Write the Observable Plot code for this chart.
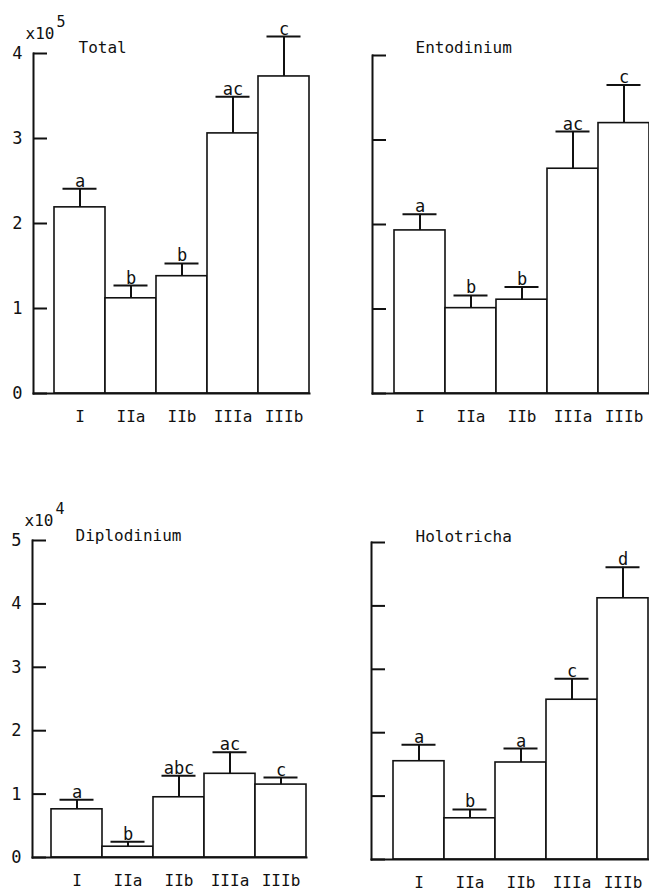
<!DOCTYPE html>
<html><head><meta charset="utf-8">
<script src="https://cdn.jsdelivr.net/npm/d3@7"></script>
<script src="https://cdn.jsdelivr.net/npm/@observablehq/plot@0.6"></script>
<style>
body{margin:0;background:#fff;}
#wrap{position:relative;width:649px;height:891px;overflow:hidden;}
.panel{position:absolute;}
</style></head><body><div id="wrap"></div>
<script>
// ---- data ----
const categories = ["I", "IIa", "IIb", "IIIa", "IIIb"];

const totalMean = [2.19, 1.12, 1.38, 3.06, 3.73];       // x10^5
const totalSE   = [0.22, 0.15, 0.15, 0.43, 0.47];
const totalLetters = ["a", "b", "b", "ac", "c"];

const entoMean = [1.93, 1.01, 1.11, 2.66, 3.20];        // x10^5
const entoSE   = [0.19, 0.15, 0.15, 0.44, 0.45];
const entoLetters = ["a", "b", "b", "ac", "c"];

const diploMean = [0.76, 0.17, 0.95, 1.32, 1.15];       // x10^4
const diploSE   = [0.15, 0.08, 0.34, 0.34, 0.11];
const diploLetters = ["a", "b", "abc", "ac", "c"];

const holoMean = [1.55, 0.65, 1.53, 2.52, 4.12];        // x10^4
const holoSE   = [0.26, 0.14, 0.22, 0.33, 0.49];
const holoLetters = ["a", "b", "a", "c", "d"];

const ticksTop = [0, 1, 2, 3, 4];
const ticksBottom = [0, 1, 2, 3, 4, 5];

const FONT = "DejaVu Sans Mono";

function panel(o) {
  const data = categories.map((c, i) => ({
    cat: c, mean: o.means[i], top: o.means[i] + o.se[i], letter: o.letters[i]
  }));
  const plotW = o.width - o.marginLeft - o.marginRight;
  const barW = (o.barsRight - o.barsLeft) / 5;
  const po = ((o.barsRight - o.axisX) / barW - 5) / 2;
  const marks = [
    Plot.barY(data, {x: "cat", y: "mean", fill: "white", stroke: "#111", strokeWidth: 1.6}),
    Plot.ruleX(data, {x: "cat", y1: "mean", y2: "top", stroke: "#111", strokeWidth: 2}),
    Plot.tickY(data, {x: "cat", y: "top", stroke: "#111", strokeWidth: 2, insetLeft: 8.5, insetRight: 8.5}),
    Plot.text(data, {x: "cat", y: "top", text: "letter", lineAnchor: "bottom", dy: -2, fontSize: 17, fill: "#111"}),
    Plot.tickY(o.ticks, {y: d => d, stroke: "#111", strokeWidth: 2, insetRight: plotW - 14}),
    Plot.frame({anchor: "left", stroke: "#111", strokeWidth: 2}),
    Plot.frame({anchor: "bottom", stroke: "#111", strokeWidth: 2}),
    Plot.axisX({tickSize: 0, tickPadding: 17, fontSize: 16, fill: "#111", label: null}),
    Plot.text([o.title], {frameAnchor: "top-left", textAnchor: "start", lineAnchor: "middle",
      dx: o.titleDx, dy: o.titleDy, fontSize: 16, fill: "#111"})
  ];
  if (o.labels) {
    marks.push(Plot.axisY(o.ticks, {tickSize: 0, tickPadding: 11, fontSize: 17, fill: "#111",
      tickFormat: d => String(d), label: null}));
    marks.push(Plot.text(["x10"], {frameAnchor: "top-left", textAnchor: "start", lineAnchor: "middle",
      dx: -8, dy: -20, fontSize: 16, fill: "#111"}));
    marks.push(Plot.text([o.exponent], {frameAnchor: "top-left", textAnchor: "start", lineAnchor: "middle",
      dx: 23, dy: -31, fontSize: 15, fill: "#111"}));
  }
  const chart = Plot.plot({
    width: o.width, height: o.height,
    marginLeft: o.marginLeft, marginRight: o.marginRight,
    marginTop: o.marginTop, marginBottom: o.marginBottom,
    style: {fontFamily: FONT, background: "transparent", overflow: "visible"},
    x: {type: "band", domain: categories, paddingInner: 0, paddingOuter: po, align: 1, axis: null},
    y: {domain: [0, o.yMax], axis: null},
    marks
  });
  chart.classList.add("panel");
  chart.style.left = o.left + "px";
  chart.style.top = o.top + "px";
  document.getElementById("wrap").appendChild(chart);
}

panel({left: 0, top: 0, width: 320, height: 430, axisX: 33, barsLeft: 54, barsRight: 309,
  marginLeft: 33, marginRight: 11, marginTop: 53, marginBottom: 37, yMax: 4, ticks: ticksTop,
  means: totalMean, se: totalSE, letters: totalLetters, title: "Total", titleDx: 45, titleDy: -6,
  labels: true, exponent: "5"});

panel({left: 330, top: 0, width: 319, height: 430, axisX: 42, barsLeft: 64, barsRight: 319,
  marginLeft: 42, marginRight: 0, marginTop: 55, marginBottom: 37, yMax: 4, ticks: ticksTop,
  means: entoMean, se: entoSE, letters: entoLetters, title: "Entodinium", titleDx: 43, titleDy: -8,
  labels: false});

panel({left: 0, top: 430, width: 320, height: 461, axisX: 32, barsLeft: 51, barsRight: 306,
  marginLeft: 32, marginRight: 14, marginTop: 110, marginBottom: 34, yMax: 5, ticks: ticksBottom,
  means: diploMean, se: diploSE, letters: diploLetters, title: "Diplodinium", titleDx: 43, titleDy: -5,
  labels: true, exponent: "4"});

panel({left: 330, top: 430, width: 319, height: 461, axisX: 41, barsLeft: 62, barsRight: 318,
  marginLeft: 41, marginRight: 1, marginTop: 112, marginBottom: 32, yMax: 5, ticks: ticksBottom,
  means: holoMean, se: holoSE, letters: holoLetters, title: "Holotricha", titleDx: 44, titleDy: -6,
  labels: false});
</script>
</body></html>
